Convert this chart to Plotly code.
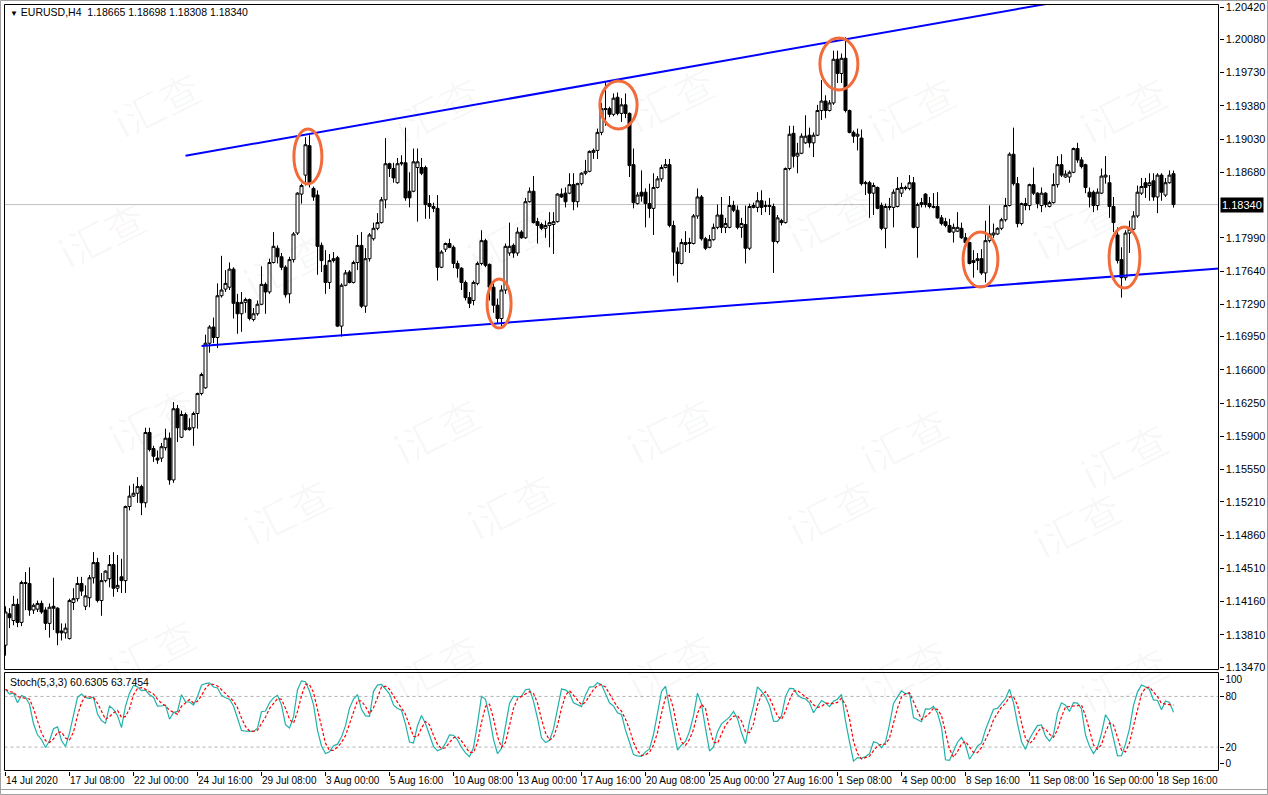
import pandas as pd
import plotly.graph_objects as go

W, H = 1268, 795

# EURUSD H4 bars, bar 0 = 14 Jul 2020 16:00
opens = [
    1.1370, 1.1403, 1.1396, 1.1413, 1.1394, 1.1436, 1.1435, 1.1407, 1.1408, 1.1414,
    1.1407, 1.1393, 1.1411, 1.1409, 1.1385, 1.1383, 1.1377, 1.1415, 1.1419, 1.1435,
    1.1411, 1.1420, 1.1441, 1.1457, 1.1417, 1.1438, 1.1440, 1.1455, 1.1430, 1.1442,
    1.1438, 1.1516, 1.1527, 1.1530, 1.1537, 1.1520, 1.1594, 1.1577, 1.1567, 1.1567,
    1.1578, 1.1588, 1.1544, 1.1619, 1.1589, 1.1613, 1.1597, 1.1599, 1.1614, 1.1635,
    1.1641, 1.1688, 1.1705, 1.1694, 1.1738, 1.1745, 1.1747, 1.1766, 1.1731, 1.1719,
    1.1731, 1.1734, 1.1713, 1.1719, 1.1729, 1.1750, 1.1742, 1.1773, 1.1788, 1.1779,
    1.1768, 1.1740, 1.1776, 1.1804, 1.1845, 1.1865, 1.1896, 1.1851, 1.1844, 1.1791,
    1.1770, 1.1752, 1.1775, 1.1778, 1.1706, 1.1749, 1.1763, 1.1752, 1.1773, 1.1791,
    1.1727, 1.1777, 1.1798, 1.1809, 1.1815, 1.1839, 1.1877, 1.1872, 1.1857, 1.1877,
    1.1878, 1.1848, 1.1848, 1.1873, 1.1873, 1.1873, 1.1835, 1.1832, 1.1830, 1.1768,
    1.1787, 1.1793, 1.1789, 1.1772, 1.1767, 1.1752, 1.1736, 1.1733, 1.1751, 1.1772,
    1.1796, 1.1771, 1.1747, 1.1728, 1.1714, 1.1744, 1.1783, 1.1791, 1.1783, 1.1805,
    1.1799, 1.1837, 1.1848, 1.1816, 1.1813, 1.1809, 1.1812, 1.1813, 1.1816, 1.1845,
    1.1846, 1.1846, 1.1855, 1.1837, 1.1856, 1.1867, 1.1869, 1.1889, 1.1891, 1.1910,
    1.1934, 1.1935, 1.1929, 1.1947, 1.1930, 1.1939, 1.1930, 1.1876, 1.1835, 1.1847,
    1.1847, 1.1835, 1.1830, 1.1852, 1.1861, 1.1873, 1.1876, 1.1812, 1.1784, 1.1772,
    1.1792, 1.1794, 1.1793, 1.1822, 1.1842, 1.1798, 1.1789, 1.1797, 1.1810, 1.1823,
    1.1810, 1.1810, 1.1833, 1.1828, 1.1810, 1.1813, 1.1788, 1.1831, 1.1831, 1.1838,
    1.1833, 1.1832, 1.1832, 1.1795, 1.1817, 1.1815, 1.1872, 1.1909, 1.1885, 1.1888,
    1.1899, 1.1907, 1.1899, 1.1907, 1.1933, 1.1943, 1.1933, 1.1941, 1.1987, 1.1972,
    1.1988, 1.1933, 1.1910, 1.1906, 1.1904, 1.1856, 1.1857, 1.1846, 1.1852, 1.1833,
    1.1809, 1.1831, 1.1831, 1.1832, 1.1846, 1.1851, 1.1851, 1.1857, 1.1810, 1.1834,
    1.1845, 1.1835, 1.1831, 1.1832, 1.1820, 1.1816, 1.1812, 1.1805, 1.1806, 1.1809,
    1.1799, 1.1794, 1.1773, 1.1775, 1.1777, 1.1762, 1.1796, 1.1802, 1.1803, 1.1809,
    1.1818, 1.1833, 1.1887, 1.1856, 1.1814, 1.1835, 1.1833, 1.1855, 1.1846, 1.1833,
    1.1846, 1.1832, 1.1836, 1.1855, 1.1876, 1.1863, 1.1863, 1.1868, 1.1893, 1.1881,
    1.1876, 1.1847, 1.1847, 1.1833, 1.1846, 1.1863, 1.1857, 1.1832, 1.1802, 1.1776,
    1.1757, 1.1804, 1.1808, 1.1822, 1.1846, 1.1857, 1.1854, 1.1859, 1.1842, 1.1865,
    1.1844, 1.1857, 1.18665,
]
highs = [
    1.1411, 1.1409, 1.1422, 1.1419, 1.1438, 1.1447, 1.1452, 1.1414, 1.1417, 1.1417,
    1.1410, 1.1414, 1.1441, 1.1410, 1.1393, 1.1393, 1.1419, 1.1430, 1.1442, 1.1442,
    1.1433, 1.1444, 1.1468, 1.1462, 1.1446, 1.1449, 1.1465, 1.1468, 1.1465, 1.1461,
    1.1517, 1.1538, 1.1540, 1.1547, 1.1539, 1.1599, 1.1599, 1.1580, 1.1575, 1.1583,
    1.1598, 1.1594, 1.1626, 1.1623, 1.1617, 1.1615, 1.1609, 1.1616, 1.1636, 1.1657,
    1.1697, 1.1707, 1.1715, 1.1751, 1.1780, 1.1765, 1.1773, 1.1768, 1.1740, 1.1742,
    1.1736, 1.1735, 1.1725, 1.1733, 1.1769, 1.1752, 1.1777, 1.1805, 1.1791, 1.1783,
    1.1770, 1.1779, 1.1805, 1.1847, 1.1856, 1.1905, 1.1907, 1.1853, 1.1849, 1.1794,
    1.1786, 1.1782, 1.1784, 1.1780, 1.1751, 1.1765, 1.1765, 1.1775, 1.1802, 1.1805,
    1.1788, 1.1804, 1.1815, 1.1825, 1.1842, 1.1904, 1.1878, 1.1878, 1.1883, 1.1886,
    1.1915, 1.1868, 1.1893, 1.1893, 1.1883, 1.1875, 1.1844, 1.1836, 1.1844, 1.1786,
    1.1794, 1.1798, 1.1791, 1.1775, 1.1768, 1.1754, 1.1742, 1.1754, 1.1774, 1.1807,
    1.1798, 1.1772, 1.1751, 1.1735, 1.1749, 1.1793, 1.1815, 1.1793, 1.1810, 1.1807,
    1.1841, 1.1852, 1.1864, 1.1820, 1.1815, 1.1817, 1.1826, 1.1826, 1.1846, 1.1851,
    1.1852, 1.1867, 1.1867, 1.1857, 1.1868, 1.1881, 1.1891, 1.1893, 1.1914, 1.1941,
    1.1964, 1.1937, 1.1951, 1.1952, 1.1946, 1.1951, 1.1931, 1.1893, 1.1847, 1.1870,
    1.1851, 1.1856, 1.1867, 1.1864, 1.1876, 1.1882, 1.1882, 1.1817, 1.1789, 1.1798,
    1.1806, 1.1799, 1.1824, 1.1851, 1.1844, 1.1800, 1.1802, 1.1814, 1.1834, 1.1842,
    1.1820, 1.1843, 1.1838, 1.1833, 1.1820, 1.1833, 1.1835, 1.1836, 1.1847, 1.1849,
    1.1838, 1.1841, 1.1835, 1.1823, 1.1819, 1.1873, 1.1917, 1.1917, 1.1899, 1.1909,
    1.1928, 1.1915, 1.1910, 1.1939, 1.1965, 1.1949, 1.1944, 1.1996, 1.1996, 1.1993,
    1.2010, 1.1934, 1.1912, 1.1914, 1.1913, 1.1859, 1.1859, 1.1857, 1.1853, 1.1836,
    1.1835, 1.1841, 1.1850, 1.1863, 1.1857, 1.1854, 1.1865, 1.1863, 1.1836, 1.1841,
    1.1846, 1.1842, 1.1846, 1.1847, 1.1823, 1.1820, 1.1819, 1.1814, 1.1826, 1.1815,
    1.1804, 1.1795, 1.1786, 1.1783, 1.1787, 1.1817, 1.1833, 1.1814, 1.1810, 1.1820,
    1.1841, 1.1889, 1.1915, 1.1863, 1.1836, 1.1841, 1.1856, 1.1873, 1.1847, 1.1852,
    1.1847, 1.1838, 1.1867, 1.1885, 1.1887, 1.1870, 1.1870, 1.1894, 1.1899, 1.1884,
    1.1877, 1.1852, 1.1849, 1.1851, 1.1872, 1.1885, 1.1865, 1.1842, 1.1810, 1.1789,
    1.1807, 1.1817, 1.1827, 1.1854, 1.1862, 1.1862, 1.1867, 1.1867, 1.1867, 1.1867,
    1.1862, 1.1870, 1.18698,
]
lows = [
    1.1359, 1.1388, 1.1391, 1.1389, 1.1390, 1.1407, 1.1401, 1.1403, 1.1405, 1.1403,
    1.1386, 1.1378, 1.1386, 1.1370, 1.1375, 1.1377, 1.1376, 1.1407, 1.1416, 1.1422,
    1.1407, 1.1410, 1.1435, 1.1415, 1.1401, 1.1436, 1.1431, 1.1421, 1.1426, 1.1425,
    1.1425, 1.1512, 1.1526, 1.1520, 1.1507, 1.1515, 1.1574, 1.1563, 1.1561, 1.1563,
    1.1575, 1.1539, 1.1541, 1.1584, 1.1588, 1.1596, 1.1596, 1.1580, 1.1598, 1.1633,
    1.1640, 1.1678, 1.1688, 1.1683, 1.1736, 1.1742, 1.1744, 1.1714, 1.1698, 1.1700,
    1.1720, 1.1712, 1.1711, 1.1717, 1.1728, 1.1719, 1.1740, 1.1772, 1.1772, 1.1765,
    1.1736, 1.1730, 1.1773, 1.1802, 1.1835, 1.1854, 1.1852, 1.1838, 1.1760, 1.1763,
    1.1740, 1.1745, 1.1773, 1.1705, 1.1695, 1.1748, 1.1751, 1.1751, 1.1765, 1.1725,
    1.1720, 1.1774, 1.1796, 1.1807, 1.1814, 1.1830, 1.1863, 1.1857, 1.1856, 1.1875,
    1.1838, 1.1831, 1.1847, 1.1816, 1.1865, 1.1819, 1.1819, 1.1826, 1.1754, 1.1767,
    1.1784, 1.1788, 1.1767, 1.1757, 1.1744, 1.1733, 1.1725, 1.1728, 1.1749, 1.1770,
    1.1768, 1.1733, 1.1720, 1.1709, 1.1706, 1.1740, 1.1780, 1.1778, 1.1780, 1.1798,
    1.1798, 1.1836, 1.1814, 1.1793, 1.1807, 1.1799, 1.1789, 1.1782, 1.1815, 1.1841,
    1.1831, 1.1845, 1.1828, 1.1831, 1.1854, 1.1865, 1.1868, 1.1882, 1.1882, 1.1907,
    1.1917, 1.1926, 1.1927, 1.1928, 1.1921, 1.1925, 1.1863, 1.1830, 1.1834, 1.1837,
    1.1810, 1.1820, 1.1802, 1.1851, 1.1858, 1.1872, 1.1810, 1.1759, 1.1752, 1.1771,
    1.1784, 1.1783, 1.1792, 1.1819, 1.1796, 1.1786, 1.1788, 1.1796, 1.1808, 1.1804,
    1.1804, 1.1809, 1.1826, 1.1808, 1.1799, 1.1772, 1.1786, 1.1830, 1.1826, 1.1823,
    1.1826, 1.1823, 1.1762, 1.1793, 1.1812, 1.1814, 1.1870, 1.1873, 1.1867, 1.1887,
    1.1898, 1.1894, 1.1884, 1.1906, 1.1923, 1.1925, 1.1932, 1.1939, 1.1962, 1.1962,
    1.1931, 1.1909, 1.1899, 1.1891, 1.1854, 1.1844, 1.1820, 1.1823, 1.1829, 1.1807,
    1.1788, 1.1828, 1.1810, 1.1831, 1.1842, 1.1849, 1.1849, 1.1809, 1.1778, 1.1831,
    1.1831, 1.1830, 1.1830, 1.1819, 1.1812, 1.1810, 1.1804, 1.1794, 1.1805, 1.1798,
    1.1793, 1.1771, 1.1757, 1.1765, 1.1760, 1.1752, 1.1794, 1.1799, 1.1802, 1.1807,
    1.1816, 1.1832, 1.1854, 1.1810, 1.1812, 1.1828, 1.1828, 1.1844, 1.1830, 1.1826,
    1.1831, 1.1831, 1.1835, 1.1852, 1.1863, 1.1862, 1.1857, 1.1867, 1.1878, 1.1872,
    1.1846, 1.1831, 1.1826, 1.1828, 1.1845, 1.1856, 1.1820, 1.1805, 1.1772, 1.1736,
    1.1754, 1.1783, 1.1807, 1.1820, 1.1844, 1.1841, 1.1838, 1.1838, 1.1825, 1.1838,
    1.1842, 1.1856, 1.18308,
]
closes = [
    1.1405, 1.1399, 1.1413, 1.1394, 1.1436, 1.1435, 1.1407, 1.1412, 1.1414, 1.1405,
    1.1393, 1.1410, 1.1409, 1.1383, 1.1383, 1.1388, 1.1417, 1.1419, 1.1435, 1.1427,
    1.1422, 1.1441, 1.1457, 1.1417, 1.1438, 1.1448, 1.1455, 1.1430, 1.1433, 1.1438,
    1.1516, 1.1527, 1.1530, 1.1537, 1.1520, 1.1594, 1.1576, 1.1569, 1.1565, 1.1579,
    1.1588, 1.1544, 1.1619, 1.1599, 1.1613, 1.1597, 1.1599, 1.1614, 1.1635, 1.1655,
    1.1688, 1.1705, 1.1694, 1.1738, 1.1744, 1.1751, 1.1766, 1.1730, 1.1719, 1.1731,
    1.1734, 1.1714, 1.1719, 1.1729, 1.1750, 1.1742, 1.1773, 1.1790, 1.1779, 1.1768,
    1.1739, 1.1776, 1.1803, 1.1846, 1.1854, 1.1897, 1.1857, 1.1842, 1.1790, 1.1775,
    1.1752, 1.1775, 1.1777, 1.1706, 1.1749, 1.1762, 1.1752, 1.1773, 1.1791, 1.1727,
    1.1777, 1.1802, 1.1809, 1.1815, 1.1839, 1.1877, 1.1872, 1.1862, 1.1877, 1.1878,
    1.1841, 1.1841, 1.1879, 1.1879, 1.1867, 1.1834, 1.1832, 1.1830, 1.1768, 1.1784,
    1.1793, 1.1789, 1.1772, 1.1767, 1.1752, 1.1736, 1.1730, 1.1752, 1.1772, 1.1796,
    1.1770, 1.1747, 1.1728, 1.1714, 1.1744, 1.1790, 1.1790, 1.1783, 1.1805, 1.1799,
    1.1837, 1.1848, 1.1815, 1.1812, 1.1809, 1.1812, 1.1815, 1.1816, 1.1845, 1.1842,
    1.1837, 1.1855, 1.1837, 1.1856, 1.1867, 1.1869, 1.1890, 1.1891, 1.1910, 1.1935,
    1.1935, 1.1929, 1.1946, 1.1930, 1.1939, 1.1930, 1.1875, 1.1836, 1.1844, 1.1843,
    1.1835, 1.1830, 1.1852, 1.1861, 1.1873, 1.1876, 1.1812, 1.1784, 1.1772, 1.1794,
    1.1794, 1.1793, 1.1822, 1.1842, 1.1798, 1.1788, 1.1797, 1.1810, 1.1823, 1.1810,
    1.1814, 1.1833, 1.1828, 1.1810, 1.1814, 1.1788, 1.1832, 1.1833, 1.1838, 1.1831,
    1.1832, 1.1833, 1.1795, 1.1820, 1.1815, 1.1872, 1.1908, 1.1885, 1.1888, 1.1906,
    1.1906, 1.1899, 1.1907, 1.1933, 1.1943, 1.1933, 1.1941, 1.1987, 1.1972, 1.1988,
    1.1933, 1.1910, 1.1906, 1.1908, 1.1856, 1.1857, 1.1846, 1.1854, 1.1830, 1.1809,
    1.1832, 1.1832, 1.1847, 1.1851, 1.1852, 1.1852, 1.1857, 1.1810, 1.1834, 1.1836,
    1.1834, 1.1832, 1.1832, 1.1820, 1.1814, 1.1812, 1.1805, 1.1810, 1.1810, 1.1799,
    1.1794, 1.1772, 1.1775, 1.1777, 1.1762, 1.1796, 1.1803, 1.1804, 1.1809, 1.1818,
    1.1833, 1.1887, 1.1856, 1.1814, 1.1835, 1.1833, 1.1855, 1.1846, 1.1835, 1.1846,
    1.1834, 1.1836, 1.1855, 1.1876, 1.1865, 1.1866, 1.1868, 1.1893, 1.1881, 1.1874,
    1.1852, 1.1842, 1.1833, 1.1847, 1.1864, 1.1865, 1.1832, 1.1815, 1.1775, 1.1757,
    1.1804, 1.1808, 1.1822, 1.1847, 1.1853, 1.1852, 1.1857, 1.1842, 1.1865, 1.1847,
    1.1857, 1.1865, 1.18340,
]

time_labels = ["14 Jul 2020", "17 Jul 08:00", "22 Jul 00:00", "24 Jul 16:00",
               "29 Jul 08:00", "3 Aug 00:00", "5 Aug 16:00", "10 Aug 08:00",
               "13 Aug 00:00", "17 Aug 16:00", "20 Aug 08:00", "25 Aug 00:00",
               "27 Aug 16:00", "1 Sep 08:00", "4 Sep 00:00", "8 Sep 16:00",
               "11 Sep 08:00", "16 Sep 00:00", "18 Sep 16:00"]
time_label_bars = [0, 16, 32, 48, 64, 80, 96, 112, 128, 144, 160, 176,
                   192, 208, 224, 240, 256, 272, 288]
# 1.18340 is shown in the black bid box instead of a plain tick label
price_labels = ["1.20420", "1.20080", "1.19730", "1.19380", "1.19030", "1.18680",
                "1.17990", "1.17640", "1.17290", "1.16950", "1.16600",
                "1.16250", "1.15900", "1.15550", "1.15210", "1.14860", "1.14510",
                "1.14160", "1.13810", "1.13470"]
bid_label = "1.18340"
stoch_ticks = [0, 20, 80, 100]
stoch_levels = [20, 80]

# channel lines (bar index, price)
upper_bars = [45, 300]
upper_prices = [1.18854, 1.20748]
lower_bars = [49, 310]
lower_prices = [1.16851, 1.17689]

# orange ellipses around swing points: bar span and price span
ring_bar0 = [72.1, 120.4, 148.6, 203.6, 239.4, 275.9]
ring_bar1 = [79.1, 126.4, 157.9, 213.1, 248.1, 283.6]
ring_lo = [1.18557, 1.17040, 1.19136, 1.19546, 1.17472, 1.17461]
ring_hi = [1.19136, 1.17556, 1.19641, 1.20094, 1.18051, 1.18104]

bars = list(range(len(closes)))

# stochastic 5,3,3
df = pd.DataFrame({"h": highs, "l": lows, "c": closes})
hh = df.h.rolling(5, min_periods=1).max()
ll = df.l.rolling(5, min_periods=1).min()
stoch_k = 100 * (df.c - ll).rolling(3, min_periods=1).sum() / (hh - ll).rolling(3, min_periods=1).sum()
stoch_d = stoch_k.rolling(3, min_periods=1).mean()


def px(x):
    return x / W


def py(y):
    return 1 - y / H


LEFT, RIGHT = 4.5, 1218.5
MAIN_TOP, MAIN_BOT = 4.5, 669.5
ST_TOP, ST_BOT = 672.5, 770.5

fig = go.Figure()

fig.add_trace(go.Candlestick(
    x=bars, open=opens, high=highs, low=lows, close=closes,
    increasing=dict(line=dict(color="black", width=1), fillcolor="white"),
    decreasing=dict(line=dict(color="black", width=1), fillcolor="black"),
    whiskerwidth=0, hoverinfo="skip", showlegend=False,
))
fig.add_trace(go.Scatter(x=upper_bars, y=upper_prices, mode="lines",
                         line=dict(color="#0000FF", width=2), showlegend=False, hoverinfo="skip"))
fig.add_trace(go.Scatter(x=lower_bars, y=lower_prices, mode="lines",
                         line=dict(color="#0000FF", width=2), showlegend=False, hoverinfo="skip"))

fig.add_trace(go.Scatter(x=bars, y=stoch_k, mode="lines", xaxis="x2", yaxis="y2",
                         line=dict(color="#20B2AA", width=1.2), showlegend=False, hoverinfo="skip"))
fig.add_trace(go.Scatter(x=bars, y=stoch_d, mode="lines", xaxis="x2", yaxis="y2",
                         line=dict(color="#FF0000", width=1.2, dash="3px,2px"),
                         showlegend=False, hoverinfo="skip"))

shapes = []
# outer window frame and panel boxes
shapes.append(dict(type="rect", xref="paper", yref="paper", x0=px(0.5), x1=px(W - 0.5),
                   y0=py(H - 0.5), y1=py(0.5), line=dict(color="#A0A0A0", width=1)))
shapes.append(dict(type="line", xref="paper", yref="paper", x0=0, x1=1,
                   y0=py(789.5), y1=py(789.5), line=dict(color="#A0A0A0", width=1)))
for top, bot in [(MAIN_TOP, MAIN_BOT), (ST_TOP, ST_BOT)]:
    shapes.append(dict(type="rect", xref="paper", yref="paper", x0=px(LEFT), x1=px(RIGHT),
                       y0=py(bot), y1=py(top), line=dict(color="black", width=1)))
# bid line
shapes.append(dict(type="line", xref="paper", yref="y", x0=px(LEFT), x1=px(RIGHT),
                   y0=closes[-1], y1=closes[-1], line=dict(color="#C0C0C0", width=1), layer="below"))
# stochastic levels
for lv in stoch_levels:
    shapes.append(dict(type="line", xref="paper", yref="y2", x0=px(LEFT), x1=px(RIGHT),
                       y0=lv, y1=lv, line=dict(color="#B0B0B0", width=1, dash="3px,3px"), layer="below"))
# orange rings
for b0, b1, lo, hi in zip(ring_bar0, ring_bar1, ring_lo, ring_hi):
    shapes.append(dict(type="circle", xref="x", yref="y", x0=b0, x1=b1, y0=lo, y1=hi,
                       line=dict(color="#F26B3A", width=3)))

# faint site watermark
wm_pos = [(100, 55), (380, 60), (670, 50), (968, 60), (1180, 60),
          (45, 185), (230, 215), (510, 190), (830, 170), (1133, 177),
          (95, 420), (380, 430), (670, 430), (960, 440), (1180, 455),
          (230, 560), (510, 555), (830, 560), (1133, 573),
          (95, 700), (380, 715), (670, 715), (960, 720), (1180, 728)]
annotations = []
for wx, wy in wm_pos:
    annotations.append(dict(xref="paper", yref="paper", x=px(wx), y=py(wy), text="i汇查",
                            showarrow=False, textangle=-27,
                            font=dict(family="Noto Sans CJK SC", size=40, color="rgba(0,0,0,0.03)")))

annotations.append(dict(xref="paper", yref="paper", x=px(8), y=py(12.5), xanchor="left",
                        yanchor="middle", showarrow=False,
                        text="<span style='font-size:8px'>▼</span> EURUSD,H4&nbsp; 1.18665 1.18698 1.18308 1.18340",
                        font=dict(family="Liberation Sans", size=10.5, color="black")))
annotations.append(dict(xref="paper", yref="paper", x=px(8), y=py(681.5), xanchor="left",
                        yanchor="middle", showarrow=False, text="Stoch(5,3,3) 60.6305 63.7454",
                        font=dict(family="Liberation Sans", size=10.5, color="black")))
annotations.append(dict(xref="paper", yref="y", x=px(RIGHT + 1), y=closes[-1], xanchor="left",
                        yanchor="middle", showarrow=False, text=bid_label, bgcolor="black",
                        borderpad=1, font=dict(family="Liberation Sans", size=11, color="white")))

tick_font = dict(family="Liberation Sans", size=11, color="black")

fig.update_layout(
    width=W, height=H, margin=dict(l=0, r=0, t=0, b=0),
    paper_bgcolor="white", plot_bgcolor="white",
    boxgap=0.25, boxgroupgap=0,
    showlegend=False,
    xaxis=dict(domain=[px(LEFT), px(RIGHT)], range=[-0.25, 303.25], showticklabels=False,
               showgrid=False, zeroline=False, rangeslider=dict(visible=False), fixedrange=True),
    yaxis=dict(domain=[py(MAIN_BOT), py(MAIN_TOP)], range=[1.134442, 1.204466], side="right",
               tickvals=[float(v) for v in price_labels], ticktext=price_labels,
               ticks="outside", ticklen=4, tickcolor="black", showgrid=False, zeroline=False,
               tickfont=tick_font, fixedrange=True, automargin=False),
    xaxis2=dict(domain=[px(LEFT), px(RIGHT)], range=[-0.25, 303.25], anchor="y2",
                tickvals=time_label_bars, ticktext=time_labels, ticks="outside", ticklen=4,
                tickcolor="black", ticklabelposition="outside right", tickangle=0, showgrid=False,
                zeroline=False, tickfont=dict(family="Liberation Sans", size=10, color="black"),
                fixedrange=True, automargin=False),
    yaxis2=dict(domain=[py(ST_BOT), py(ST_TOP)], range=[-7.7, 108.3], side="right", anchor="x2",
                tickvals=stoch_ticks, ticks="outside", ticklen=4, tickcolor="black",
                showgrid=False, zeroline=False, tickfont=dict(family="Liberation Sans", size=10, color="black"),
                fixedrange=True, automargin=False),
    shapes=shapes,
    annotations=annotations,
)

fig.write_html("out.html", config={"displayModeBar": False},
               post_script="document.body.style.margin='0px';")
